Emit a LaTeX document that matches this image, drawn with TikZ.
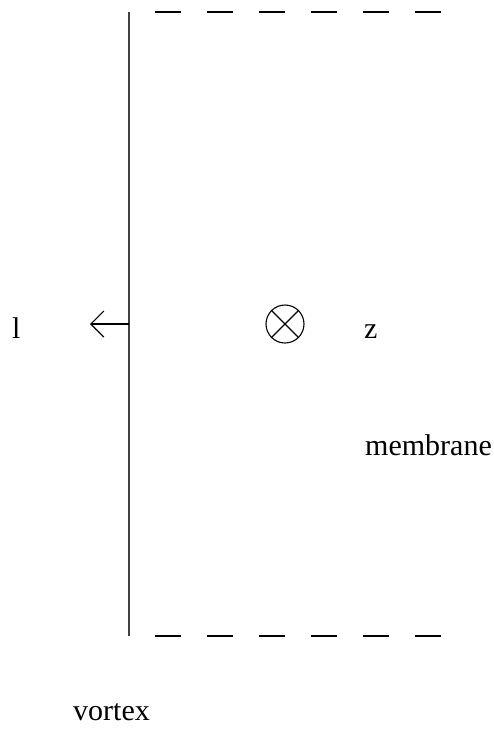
\documentclass[tikz,border=0pt]{standalone}
\usepackage{fontspec}
\setmainfont{Liberation Serif}
\usetikzlibrary{arrows.meta}
\begin{document}
\begin{tikzpicture}[x=1pt,y=-1pt,
  lbl/.style={anchor=base west,inner sep=0pt,font=\fontsize{30}{36}\selectfont},
  ln/.style={line width=1.1pt},
  dsh/.style={line width=1.3pt,dash pattern=on 26pt off 26pt}]
\useasboundingbox (0,0) rectangle (494,729);
% vortex line
\coordinate (vt) at (129,12);
\coordinate (vb) at (129,636);
\draw[ln,black!75] (vt) -- (vb);
% membrane boundaries
\coordinate (tl) at (155,12);
\coordinate (tr) at (441,12);
\coordinate (bl) at (155,636);
\coordinate (br) at (441,636);
\draw[dsh] (tl) -- (tr);
\draw[dsh] (bl) -- (br);
% arrow
\coordinate (as) at (129,324);
\coordinate (ae) at (90,324);
\draw[ln,-{Straight Barb[length=13pt,width=26pt,line width=1.1pt]}] (as) -- (ae);
% circle cross
\node[draw,circle,line width=1.1pt,minimum size=38pt,inner sep=0pt] (c) at (285,324) {};
\draw[ln] (c.north west) -- (c.south east);
\draw[ln] (c.north east) -- (c.south west);
% labels
\node[lbl] (l) at (12,338) {l};
\node[lbl] (z) at (364,338) {z};
\node[lbl] (m) at (365,455) {membrane};
\node[lbl] (v) at (73,720) {vortex};
\end{tikzpicture}
\end{document}
